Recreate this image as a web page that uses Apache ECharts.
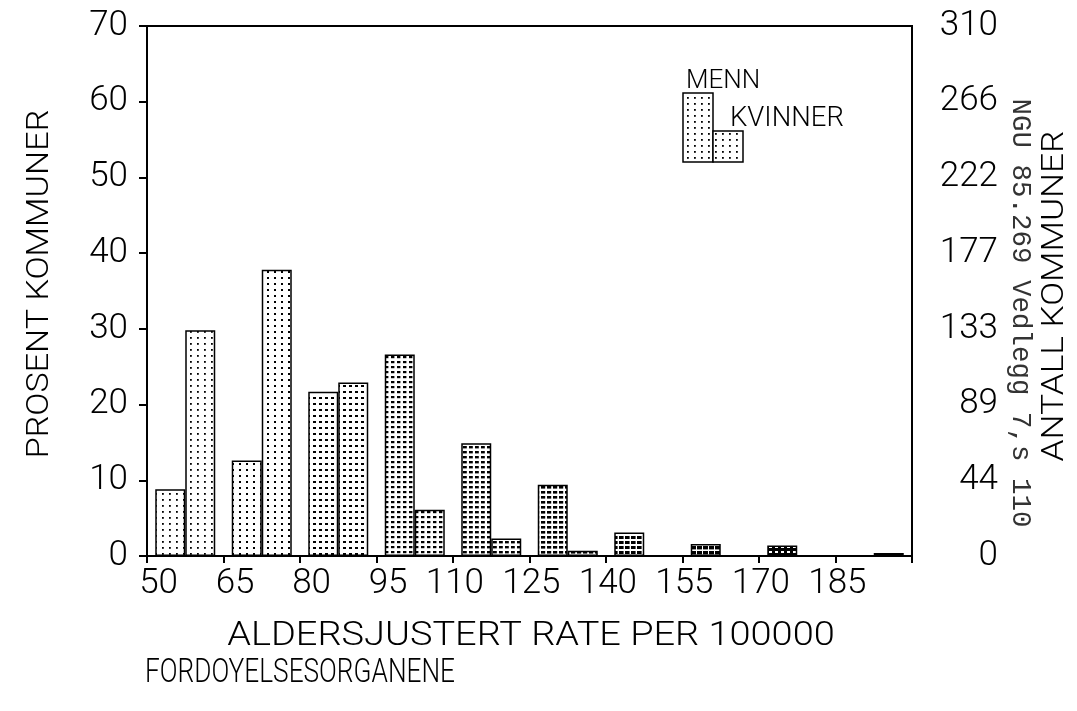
<!DOCTYPE html>
<html>
<head>
<meta charset="utf-8">
<title>Fordøyelsesorganene – aldersjustert rate</title>
<script src="https://cdn.jsdelivr.net/npm/echarts@6/dist/echarts.min.js"></script>
<style>
  html, body { margin: 0; padding: 0; background: #fff; }
  #chart { width: 1077px; height: 711px; }
</style>
</head>
<body>
<div id="chart"></div>
<script>
// Rate classes (lower bound of each 15-wide class, per 100000)
const BIN_STARTS = [50, 65, 80, 95, 110, 125, 140, 155, 170, 185];
// Percent of municipalities in each class
const MENN    = [8.8, 12.6, 21.7, 26.6, 14.9, 9.4, 3.1, 1.6, 1.4, 0];
const KVINNER = [29.8, 37.8, 22.9, 6.1, 2.3, 0.7, 0, 0, 0, 0.4];
// Axis tick labels
const X_TICK_LABELS = ['50', '65', '80', '95', '110', '125', '140', '155', '170', '185', ''];
const Y_RIGHT_LABELS = ['0', '44', '89', '133', '177', '222', '266', '310'];

const SERIES_NAMES = ['MENN', 'KVINNER'];
const X_TITLE = 'ALDERSJUSTERT RATE PER 100000';
const SUBJECT = 'FORDOYELSESORGANENE';
const Y_LEFT_TITLE = 'PROSENT KOMMUNER';
const Y_RIGHT_TITLE = 'ANTALL KOMMUNER';
const SOURCE_NOTE = 'NGU 85.269 Vedlegg 7,s 110';

const SANS = 'Roboto, "Liberation Sans", Arial, sans-serif';
const W = 300;
const MONO = '"Liberation Mono", "DejaVu Sans Mono", monospace';

// Raster shading for each rate class: cell size, mark size, colours
const SHADES = [
  { cw: 7, ch: 6, mw: 1.8, mh: 1.8, fg: '#000', bg: '#fff' },
  { cw: 7, ch: 6, mw: 2.0, mh: 2.0, fg: '#000', bg: '#fff' },
  { cw: 6, ch: 6, mw: 3.0, mh: 2.0, fg: '#000', bg: '#fff' },
  { cw: 6, ch: 5, mw: 3.4, mh: 2.2, fg: '#000', bg: '#fff' },
  { cw: 6, ch: 5, mw: 3.8, mh: 2.4, fg: '#000', bg: '#fff' },
  { cw: 6, ch: 5, mw: 4.2, mh: 2.6, fg: '#000', bg: '#fff' },
  { cw: 6, ch: 5, mw: 4.6, mh: 3.0, fg: '#000', bg: '#fff' },
  { cw: 6, ch: 5, mw: 5.0, mh: 3.4, fg: '#000', bg: '#fff' },
  { cw: 6, ch: 5, mw: 3.0, mh: 2.0, fg: '#fff', bg: '#000' },
  { cw: 6, ch: 4, mw: 6.0, mh: 4.0, fg: '#000', bg: '#000' }
];

function makePattern(s) {
  const reps = 2;
  const c = document.createElement('canvas');
  c.width = s.cw * reps;
  c.height = s.ch * reps;
  const g = c.getContext('2d');
  g.fillStyle = s.bg;
  g.fillRect(0, 0, c.width, c.height);
  g.fillStyle = s.fg;
  for (let i = 0; i < reps; i++) {
    for (let j = 0; j < reps; j++) {
      g.fillRect(i * s.cw + 1, j * s.ch + 1, s.mw, s.mh);
    }
  }
  return { image: c, repeat: 'repeat' };
}
const PATTERNS = SHADES.map(makePattern);

function barData(values) {
  return values.map((v, i) => ({ value: v, itemStyle: { color: PATTERNS[i] } }));
}

const chart = echarts.init(document.getElementById('chart'), null, { renderer: 'canvas' });

const TICK_SIZE = 35;
const labelFont = { fontFamily: SANS, fontWeight: W, fontSize: TICK_SIZE, color: '#000' };
const barStyle = { borderColor: '#000', borderWidth: 1.5 };

function txt(size, family) {
  return W + ' ' + size + 'px ' + (family || SANS);
}

chart.setOption({
  backgroundColor: '#fff',
  animation: false,
  grid: {
    left: 147, right: 165, top: 26, bottom: 155,
    show: true, borderColor: '#000', borderWidth: 2, backgroundColor: 'transparent'
  },
  xAxis: [
    {
      type: 'category',
      data: BIN_STARTS.map(b => b + '–' + (b + 15)),
      show: false
    },
    {
      type: 'value',
      min: 50, max: 200, interval: 15,
      position: 'bottom',
      axisLine: { show: true, lineStyle: { color: '#000', width: 2 } },
      axisTick: { show: true, length: 7, lineStyle: { color: '#000', width: 2 } },
      splitLine: { show: false },
      axisLabel: {
        margin: 11,
        formatter: (v) => {
          const idx = Math.round((v - 50) / 15);
          const t = X_TICK_LABELS[idx] || '';
          return t ? '{r|' + t + '}' : '';
        },
        rich: { r: { width: 62, align: 'right', fontFamily: SANS, fontWeight: W, fontSize: TICK_SIZE, color: '#000' } }
      }
    }
  ],
  yAxis: [
    {
      type: 'value', min: 0, max: 70, interval: 10, position: 'left',
      axisLine: { show: true, lineStyle: { color: '#000', width: 2 } },
      axisTick: { show: true, length: 8, lineStyle: { color: '#000', width: 2 } },
      splitLine: { show: false },
      axisLabel: Object.assign({ margin: 19 }, labelFont)
    },
    {
      type: 'value', min: 0, max: 70, interval: 10, position: 'right',
      axisLine: { show: true, lineStyle: { color: '#000', width: 2 } },
      axisTick: { show: false },
      splitLine: { show: false },
      axisLabel: Object.assign({
        margin: 86, align: 'right',
        formatter: (v) => Y_RIGHT_LABELS[Math.round(v / 10)]
      }, labelFont)
    }
  ],
  series: [
    {
      name: SERIES_NAMES[0], type: 'bar', xAxisIndex: 0, yAxisIndex: 0,
      barWidth: 30, barGap: '0%',
      itemStyle: barStyle,
      data: barData(MENN)
    },
    {
      name: SERIES_NAMES[1], type: 'bar', xAxisIndex: 0, yAxisIndex: 0,
      barWidth: 30, barGap: '0%',
      itemStyle: barStyle,
      data: barData(KVINNER)
    }
  ],
  graphic: [
    // legend key
    { type: 'rect', shape: { x: 683, y: 93, width: 30, height: 69 },
      style: { fill: PATTERNS[0], stroke: '#000', lineWidth: 1.5 } },
    { type: 'rect', shape: { x: 713, y: 131, width: 30, height: 31 },
      style: { fill: PATTERNS[0], stroke: '#000', lineWidth: 1.5 } },
    { type: 'text', x: 686, y: 81,
      style: { text: SERIES_NAMES[0], font: txt(26), fill: '#000', textVerticalAlign: 'middle' } },
    { type: 'text', x: 730, y: 119,
      style: { text: SERIES_NAMES[1], font: txt(27.5), fill: '#000', textVerticalAlign: 'middle' } },
    // axis titles
    { type: 'text', x: 40, y: 284, rotation: Math.PI / 2, scaleX: 1.1,
      style: { text: Y_LEFT_TITLE, font: txt(31), fill: '#000', textAlign: 'center', textVerticalAlign: 'middle' } },
    { type: 'text', x: 1055, y: 296, rotation: Math.PI / 2, scaleX: 1.1,
      style: { text: Y_RIGHT_TITLE, font: txt(32), fill: '#000', textAlign: 'center', textVerticalAlign: 'middle' } },
    { type: 'text', x: 1020, y: 313, rotation: -Math.PI / 2,
      style: { text: SOURCE_NOTE, font: 'normal 27.5px ' + MONO, fill: '#333', textAlign: 'center', textVerticalAlign: 'middle' } },
    { type: 'text', x: 531, y: 637, scaleX: 1.15,
      style: { text: X_TITLE, font: txt(33), fill: '#000', textAlign: 'center', textVerticalAlign: 'middle' } },
    { type: 'text', x: 145, y: 674, scaleX: 0.795,
      style: { text: SUBJECT, font: txt(33), fill: '#000', textAlign: 'left', textVerticalAlign: 'middle' } }
  ]
});
</script>
</body>
</html>
